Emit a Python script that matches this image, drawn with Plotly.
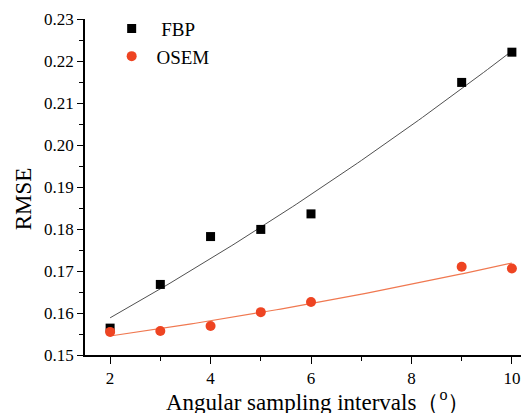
import numpy as np
import plotly.graph_objects as go

intervals = [2, 3, 4, 5, 6, 9, 10]
fbp_rmse = [0.1564, 0.1668, 0.1782, 0.1799, 0.1836, 0.2149, 0.2221]
osem_rmse = [0.1555, 0.1557, 0.1569, 0.1602, 0.1626, 0.1710, 0.1706]
x_ticks = [2, 4, 6, 8, 10]
y_ticks = [0.15, 0.16, 0.17, 0.18, 0.19, 0.20, 0.21, 0.22, 0.23]
x_title = "Angular sampling intervals（<sup>o</sup>）"
y_title = "RMSE"

black = "#000000"
orange = "#EE4422"
ff = "Liberation Serif"

# quadratic trend fits derived from the data
xf = np.linspace(min(intervals), max(intervals), 100)
fbp_fit = np.polyval(np.polyfit(intervals, fbp_rmse, 2), xf)
osem_fit = np.polyval(np.polyfit(intervals, osem_rmse, 2), xf)

fig = go.Figure()
fig.add_trace(go.Scatter(x=xf, y=fbp_fit, mode="lines", line=dict(color="#505050", width=1), showlegend=False, hoverinfo="skip"))
fig.add_trace(go.Scatter(x=xf, y=osem_fit, mode="lines", line=dict(color="#F07850", width=1.2), showlegend=False, hoverinfo="skip"))
fig.add_trace(go.Scatter(x=intervals, y=fbp_rmse, mode="markers", name="\u00a0\u00a0FBP",
                         marker=dict(symbol="square", size=9, color=black)))
fig.add_trace(go.Scatter(x=intervals, y=osem_rmse, mode="markers", name="\u00a0OSEM",
                         marker=dict(symbol="circle", size=10, color=orange)))

fig.update_layout(
    width=529, height=413,
    margin=dict(l=77, r=0, t=11, b=66),
    paper_bgcolor="white", plot_bgcolor="white",
    font=dict(family=ff, color="black", size=16),
    legend=dict(x=0.059, y=1.028, xanchor="left", yanchor="top", bgcolor="rgba(0,0,0,0)",
                font=dict(size=19, family=ff, color="black"), tracegroupgap=0),
    xaxis=dict(range=[1.5, 10.5], tickvals=x_ticks, ticks="outside", ticklen=7, tickwidth=1.2,
               tickcolor="black", showline=True, linecolor="black", linewidth=1.5, automargin=False,
               showgrid=False, zeroline=False, tickfont=dict(size=17, family=ff, color="black"),
               minor=dict(dtick=1, tick0=0, ticks="outside", ticklen=4, tickcolor="black", showgrid=False)),
    yaxis=dict(range=[0.15, 0.23], tickvals=y_ticks, tickformat=".2f", ticks="outside", ticklen=6, tickwidth=1.2,
               tickcolor="black", showline=True, linecolor="black", linewidth=1.5, automargin=False,
               showgrid=False, zeroline=False, tickfont=dict(size=17, family=ff, color="black"),
               minor=dict(dtick=0.005, tick0=0.15, ticks="outside", ticklen=4, tickcolor="black", showgrid=False)),
    annotations=[
        dict(text=x_title, xref="paper", yref="paper", x=0.515, y=-0.134, xanchor="center", yanchor="middle",
             showarrow=False, font=dict(size=23, family=ff, color="black")),
        dict(text=y_title, xref="paper", yref="paper", x=-0.136, y=0.465, xanchor="center", yanchor="middle",
             textangle=-90, showarrow=False, font=dict(size=23, family=ff, color="black")),
    ],
)

fig.write_html("out.html")
